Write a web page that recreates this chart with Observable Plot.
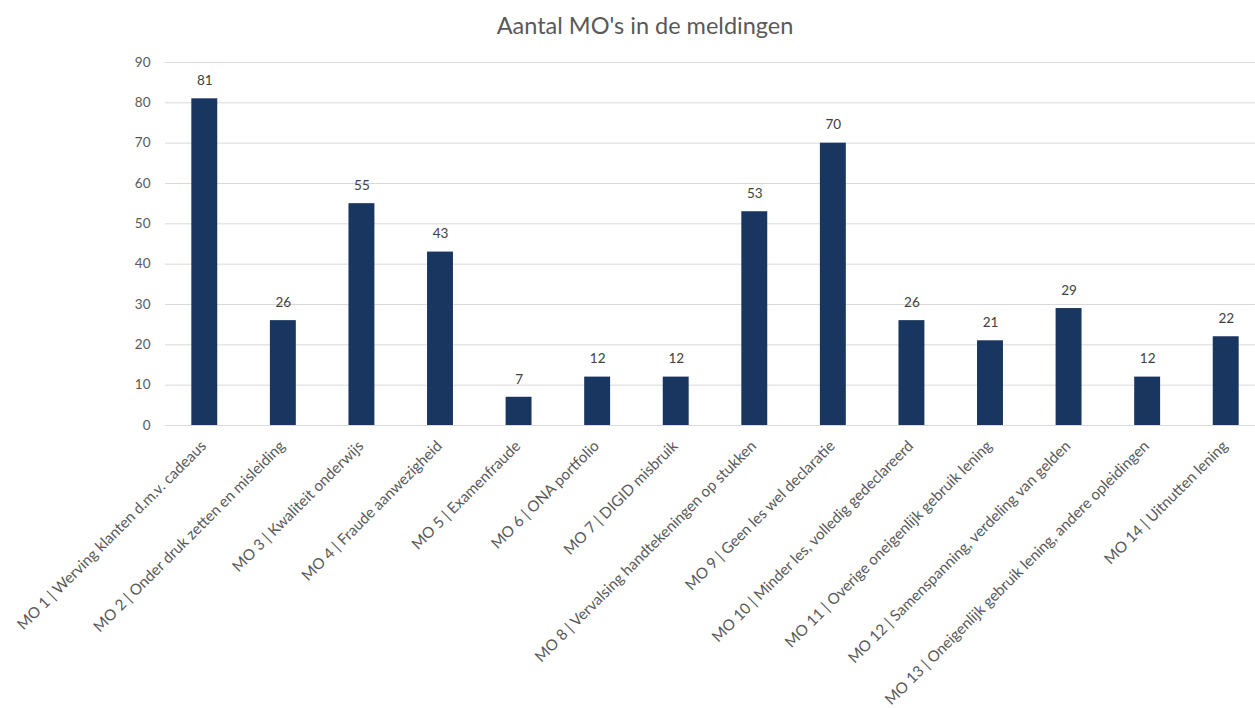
<!DOCTYPE html>
<html>
<head>
<meta charset="utf-8">
<script src="https://cdn.jsdelivr.net/npm/d3@7"></script>
<script src="https://cdn.jsdelivr.net/npm/@observablehq/plot@0.6"></script>
<style>
  body { margin: 0; background: #fff; font-family: Lato, "Open Sans", sans-serif; }
  #title { height: 50px; line-height: 50px; text-align: center; font-size: 23.5px; color: #595959; width: 1290px; }
  svg { display: block; }
</style>
</head>
<body>
<div id="title">Aantal MO's in de meldingen</div>
<div id="chart"></div>
<script>
const categories = [
  "MO 1 | Werving klanten d.m.v. cadeaus",
  "MO 2 | Onder druk zetten en misleiding",
  "MO 3 | Kwaliteit onderwijs",
  "MO 4 | Fraude aanwezigheid",
  "MO 5 | Examenfraude",
  "MO 6 | ONA portfolio",
  "MO 7 | DIGID misbruik",
  "MO 8 | Vervalsing handtekeningen op stukken",
  "MO 9 | Geen les wel declaratie",
  "MO 10 | Minder les, volledig gedeclareerd",
  "MO 11 | Overige oneigenlijk gebruik lening",
  "MO 12 | Samenspanning, verdeling van gelden",
  "MO 13 | Oneigenlijk gebruik lening, andere opleidingen",
  "MO 14 | Uitnutten lening"
];
const values = [81, 26, 55, 43, 7, 12, 12, 53, 70, 26, 21, 29, 12, 22];
const yTicks = [0, 10, 20, 30, 40, 50, 60, 70, 80, 90];

const data = categories.map((c, i) => ({cat: c, val: values[i]}));

const chart = Plot.plot({
  width: 1255,
  height: 658,
  marginTop: 12,
  marginBottom: 283,
  marginLeft: 165,
  marginRight: 0,
  style: {fontFamily: "Lato, 'Open Sans', sans-serif", fontSize: "13px", color: "#595959", background: "#fff"},
  x: {domain: categories, range: [165, 1265], paddingInner: 0.67, paddingOuter: 0.335, round: false, label: null},
  y: {domain: [0, 90], label: null},
  marks: [
    Plot.gridY(yTicks, {stroke: "#d9d9d9", strokeOpacity: 1}),
    Plot.axisY(yTicks, {tickSize: 0, tickPadding: 15, fontSize: 13.5, label: null}),
    Plot.barY(data, {x: "cat", y: "val", fill: "#193660"}),
    Plot.ruleY([0], {stroke: "#d9d9d9"}),
    Plot.axisX({tickSize: 0, tickPadding: 18, tickRotate: -45, fontSize: 15.2, dx: -1, label: null}),
    Plot.text(data, {x: "cat", y: "val", text: d => String(d.val), dy: -18, fontSize: 13.5, fill: "#404040"})
  ]
});
document.getElementById("chart").appendChild(chart);
</script>
</body>
</html>
